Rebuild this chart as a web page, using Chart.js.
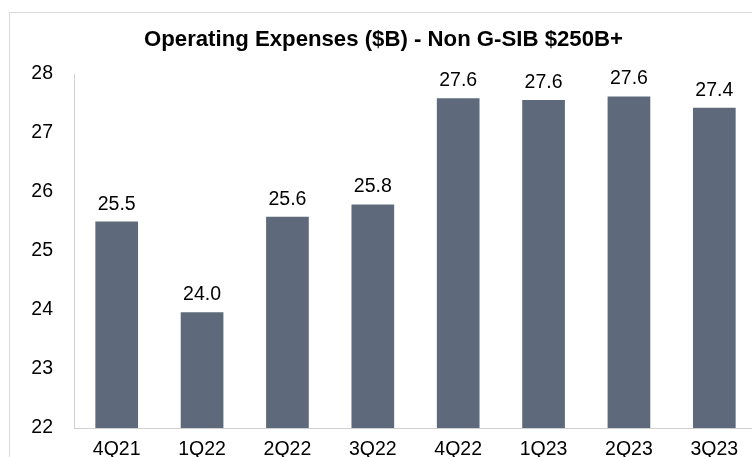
<!DOCTYPE html>
<html>
<head>
<meta charset="utf-8">
<script src="https://cdn.jsdelivr.net/npm/chart.js@4/dist/chart.umd.min.js"></script>
<style>
  html, body { margin: 0; padding: 0; background: #fff; overflow: hidden; }
  #frame { position: absolute; left: 9px; top: 12px; width: 800px; height: 500px; border: 1px solid #d9d9d9; }
  #box { position: absolute; left: 0; top: 0; width: 760px; height: 450px; }
</style>
</head>
<body>
<div id="frame"><div id="box"><canvas id="myChart"></canvas></div></div>
<script>
const quarters = ['4Q21', '1Q22', '2Q22', '3Q22', '4Q22', '1Q23', '2Q23', '3Q23'];
const expenses = [25.5, 23.96, 25.58, 25.79, 27.59, 27.56, 27.62, 27.43];
const yTicks = [22, 23, 24, 25, 26, 27, 28];

const fontFamily = '"Liberation Sans", Arial, sans-serif';

// values above the bars
const barLabels = {
    id: 'barLabels',
    afterDatasetsDraw(chart) {
        const ctx = chart.ctx;
        const meta = chart.getDatasetMeta(0);
        ctx.save();
        ctx.font = '19.5px ' + fontFamily;
        ctx.fillStyle = '#000';
        ctx.textAlign = 'center';
        ctx.textBaseline = 'alphabetic';
        meta.data.forEach((bar, i) => {
            ctx.fillText(expenses[i].toFixed(1), bar.x, bar.y - 12);
        });
        ctx.restore();
    }
};

const data = {
    labels: quarters,
    datasets: [
        {
            label: 'Operating Expenses',
            data: expenses,
            backgroundColor: '#5e6a7b',
            borderWidth: 0,
            barPercentage: 0.5,
            categoryPercentage: 1
        }
    ]
};

const config = {
    type: 'bar',
    data: data,
    options: {
        responsive: true,
        maintainAspectRatio: false,
        animation: false,
        layout: { padding: { left: 0, right: 13, top: 0, bottom: 0 } },
        plugins: {
            legend: { display: false },
            tooltip: { enabled: false },
            title: {
                display: true,
                text: 'Operating Expenses ($B) - Non G-SIB $250B+',
                color: '#000',
                font: { family: fontFamily, size: 22.2, weight: 'bold' },
                padding: { top: 14, bottom: 20.4 }
            }
        },
        scales: {
            x: {
                grid: { display: false, drawTicks: false },
                border: { display: true, color: '#d0d0d0', width: 1 },
                ticks: { color: '#000', font: { family: fontFamily, size: 19.5 }, padding: 10 },
                afterFit(scale) { scale.height = 35; }
            },
            y: {
                min: yTicks[0],
                max: yTicks[yTicks.length - 1],
                afterBuildTicks(scale) { scale.ticks = yTicks.map(v => ({ value: v })); },
                grid: { display: false, drawTicks: false },
                border: { display: true, color: '#d0d0d0', width: 1 },
                ticks: { color: '#000', font: { family: fontFamily, size: 19.5 }, padding: 21 },
                afterFit(scale) { scale.width = 64; }
            }
        }
    },
    plugins: [barLabels]
};

const myChart = new Chart(document.querySelector('#myChart'), config);
</script>
</body>
</html>
